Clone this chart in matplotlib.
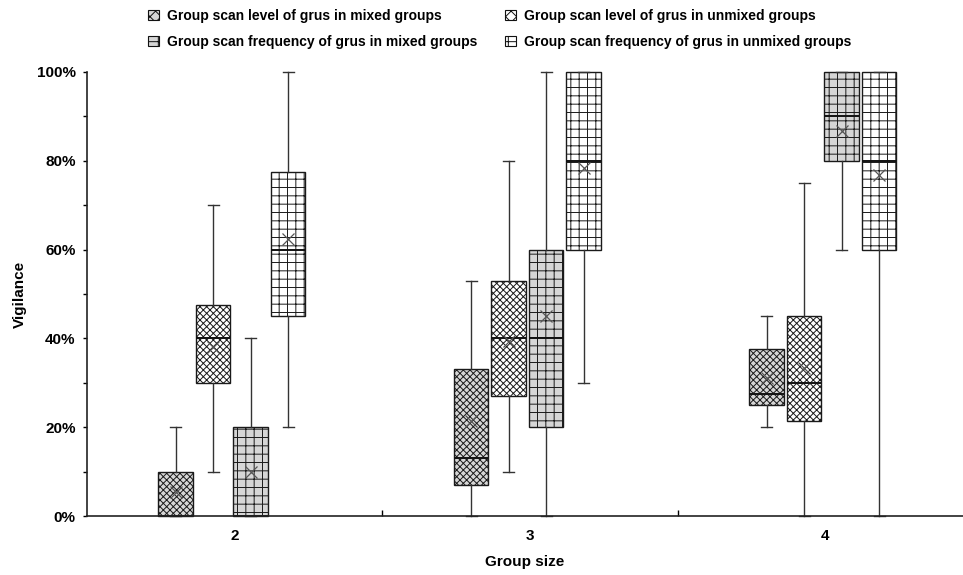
import matplotlib
matplotlib.use("Agg")
import matplotlib.pyplot as plt
from matplotlib.patches import Patch
from matplotlib.ticker import MultipleLocator, FuncFormatter
import numpy as np

plt.rcParams['font.family'] = ['Liberation Sans', 'DejaVu Sans']
plt.rcParams['hatch.linewidth'] = 0.7

groups = ["2", "3", "4"]
series_names = [
    "Group scan level of grus in mixed groups",
    "Group scan level of grus in unmixed groups",
    "Group scan frequency of grus in mixed groups",
    "Group scan frequency of grus in unmixed groups",
]

# per series: values for group sizes 2, 3, 4 (percent)
ml_whislo = [0, 0, 20]
ml_q1 = [0, 7, 25]
ml_med = [0, 13, 27.5]
ml_q3 = [10, 33, 37.5]
ml_whishi = [20, 53, 45]
ml_mean = [5.5, 21.5, 31]

ul_whislo = [10, 10, 0]
ul_q1 = [30, 27, 21.5]
ul_med = [40, 40, 30]
ul_q3 = [47.5, 53, 45]
ul_whishi = [70, 80, 75]
ul_mean = [38, 39.5, 33.3]

mf_whislo = [0, 0, 60]
mf_q1 = [0, 20, 80]
mf_med = [0, 40, 90]
mf_q3 = [20, 60, 100]
mf_whishi = [40, 100, 100]
mf_mean = [10, 45, 86.7]

uf_whislo = [20, 30, 0]
uf_q1 = [45, 60, 60]
uf_med = [60, 80, 80]
uf_q3 = [77.5, 100, 100]
uf_whishi = [100, 100, 100]
uf_mean = [62.3, 78.3, 76.8]

series = [
    (ml_whislo, ml_q1, ml_med, ml_q3, ml_whishi, ml_mean),
    (ul_whislo, ul_q1, ul_med, ul_q3, ul_whishi, ul_mean),
    (mf_whislo, mf_q1, mf_med, mf_q3, mf_whishi, mf_mean),
    (uf_whislo, uf_q1, uf_med, uf_q3, uf_whishi, uf_mean),
]
fills = ["#d6d6d6", "white", "#d6d6d6", "white"]
hatches = ["xxxxx", "xxxxx", "++", "++"]

fig = plt.figure(figsize=(9.63, 5.75), dpi=100)
ax = fig.add_axes([0.090, 0.1026, 0.910, 0.7722])

spacing = 0.127
width = 0.117
offsets = (np.arange(4) - 1.5) * spacing - 0.0085

for s, (wl, q1, md, q3, wh, mn) in enumerate(series):
    stats = []
    for g in range(len(groups)):
        stats.append(dict(whislo=wl[g], q1=q1[g], med=md[g], q3=q3[g],
                          whishi=wh[g], mean=mn[g], fliers=[]))
    pos = np.arange(len(groups)) + 0.5 + offsets[s]
    art = ax.bxp(stats, positions=pos, widths=width, patch_artist=True,
                 showmeans=True, showfliers=False, capwidths=0.037,
                 boxprops=dict(facecolor=fills[s], edgecolor="#1a1a1a", linewidth=1.0, hatch=hatches[s]),
                 medianprops=dict(color="#111111", linewidth=1.4),
                 whiskerprops=dict(color="#333333", linewidth=1.0),
                 capprops=dict(color="#333333", linewidth=1.0),
                 meanprops=dict(marker="x", markeredgecolor="#555555", markersize=8, markeredgewidth=0.9))
    for key in art:
        for a in art[key]:
            a.set_clip_on(False)

ax.set_xlim(0, 2.966)
ax.set_ylim(0, 100)
for sp in ["top", "right"]:
    ax.spines[sp].set_visible(False)
ax.spines["left"].set_linewidth(1.2)
ax.spines["bottom"].set_linewidth(1.2)
ax.spines["left"].set_color("#222222")
ax.spines["bottom"].set_color("#222222")

ax.set_xticks([1, 2])
ax.set_xticklabels([])
ax.set_xticks([0.5, 1.5, 2.5], minor=True)
ax.set_xticklabels(groups, minor=True, fontsize=11, fontweight="bold")
ax.tick_params(axis="x", which="major", direction="in", length=4, width=1)
ax.tick_params(axis="x", which="minor", length=0, pad=9)

ax.yaxis.set_major_locator(MultipleLocator(20))
ax.yaxis.set_minor_locator(MultipleLocator(10))
ax.yaxis.set_major_formatter(FuncFormatter(lambda v, p: f"{int(v)}%"))
ax.tick_params(axis="y", which="both", direction="out", length=3, width=1, pad=5)
for lab in ax.get_yticklabels():
    lab.set_fontsize(11)
    lab.set_fontweight("bold")

ax.set_ylabel("Vigilance", fontsize=11, fontweight="bold", labelpad=7)
ax.set_xlabel("Group size", fontsize=11, fontweight="bold", labelpad=9)

handles = [Patch(facecolor=fills[i], edgecolor="#111111", hatch=("xxx" if i < 2 else "+"), linewidth=0.8)
           for i in range(4)]
order = [0, 2, 1, 3]
leg = fig.legend([handles[i] for i in order], [series_names[i] for i in order],
                 loc="center", bbox_to_anchor=(500 / 963, 1 - 29 / 575), ncol=2,
                 frameon=False, prop=dict(size=10, weight="bold"),
                 handlelength=0.75, handleheight=0.75, handletextpad=0.6,
                 columnspacing=2.0, labelspacing=0.85)

fig.savefig("out.png", dpi=100)
